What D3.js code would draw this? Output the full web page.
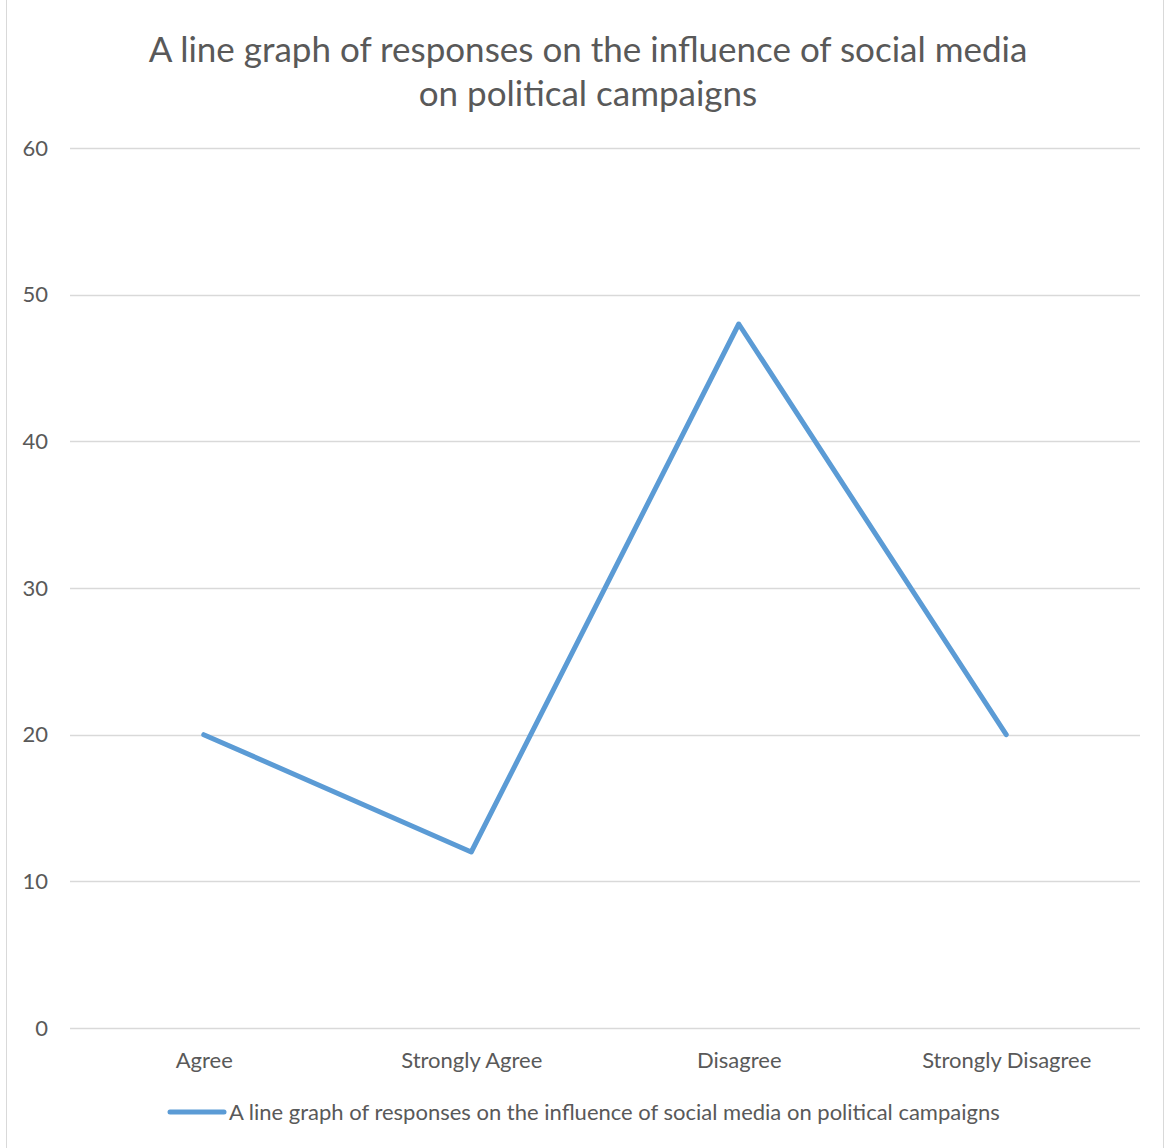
<!DOCTYPE html>
<html>
<head>
<meta charset="utf-8">
<script src="https://cdn.jsdelivr.net/npm/d3@7"></script>
<style>
  body { margin: 0; background: #fff; }
  svg { display: block; font-family: Lato, "Open Sans", sans-serif; }
</style>
</head>
<body>
<div id="chart"></div>
<script>
const categories = ["Agree", "Strongly Agree", "Disagree", "Strongly Disagree"];
const values = [20, 12, 48, 20];
const yTicks = [0, 10, 20, 30, 40, 50, 60];
const titleLines = ["A line graph of responses on the influence of social media", "on political campaigns"];
const seriesName = "A line graph of responses on the influence of social media on political campaigns";

const width = 1168, height = 1148;
const margin = { top: 148, right: 28, bottom: 120, left: 70 };
const innerW = width - margin.left - margin.right;
const innerH = height - margin.top - margin.bottom;

const textColor = "#595959";
const lineColor = "#5B9BD5";
const fontFam = "Lato, 'Open Sans', sans-serif";

const svg = d3.select("#chart").append("svg")
  .attr("width", width)
  .attr("height", height);

// chart border
svg.append("rect")
  .attr("x", 6.5).attr("y", -2)
  .attr("width", width - 11).attr("height", height + 4)
  .attr("fill", "none")
  .attr("stroke", "#d9d9d9");

// title
svg.append("text")
  .attr("fill", textColor)
  .attr("font-size", 35)
  .attr("text-anchor", "middle")
  .selectAll("tspan")
  .data(titleLines)
  .join("tspan")
  .attr("x", 588)
  .attr("y", (d, i) => 62 + i * 44)
  .text(d => d);

const g = svg.append("g").attr("transform", `translate(${margin.left},${margin.top})`);

const x = d3.scalePoint().domain(categories).range([0, innerW]).padding(0.5);
const y = d3.scaleLinear().domain([0, 60]).range([innerH, 0]);

// gridlines
g.append("g")
  .selectAll("line")
  .data(yTicks)
  .join("line")
  .attr("x1", 0).attr("x2", innerW)
  .attr("y1", d => Math.round(y(d)) + 0.5)
  .attr("y2", d => Math.round(y(d)) + 0.5)
  .attr("stroke", "#d9d9d9")
  .attr("stroke-width", 1.3);

// y axis labels
const yAxis = g.append("g")
  .call(d3.axisLeft(y).tickValues(yTicks).tickSize(0).tickPadding(22));
yAxis.select(".domain").remove();
yAxis.selectAll("text")
  .attr("fill", textColor)
  .attr("font-size", 22)
  .attr("font-family", fontFam);

// x axis labels
const xAxis = g.append("g")
  .attr("transform", `translate(0,${innerH})`)
  .call(d3.axisBottom(x).tickSize(0).tickPadding(24));
xAxis.select(".domain").remove();
xAxis.selectAll("text")
  .attr("fill", textColor)
  .attr("font-size", 22)
  .attr("font-family", fontFam);

// line
const line = d3.line()
  .x((d, i) => x(categories[i]))
  .y(d => y(d));

g.append("path")
  .datum(values)
  .attr("fill", "none")
  .attr("stroke", lineColor)
  .attr("stroke-width", 5)
  .attr("stroke-linejoin", "round")
  .attr("stroke-linecap", "round")
  .attr("d", line);

// legend
const legend = svg.append("g").attr("transform", "translate(170,1112)");
legend.append("line")
  .attr("x1", 0).attr("x2", 54)
  .attr("y1", 0).attr("y2", 0)
  .attr("stroke", lineColor)
  .attr("stroke-width", 5)
  .attr("stroke-linecap", "round");
legend.append("text")
  .attr("x", 59)
  .attr("y", 8)
  .attr("fill", textColor)
  .attr("font-size", 22)
  .text(seriesName);
</script>
</body>
</html>
